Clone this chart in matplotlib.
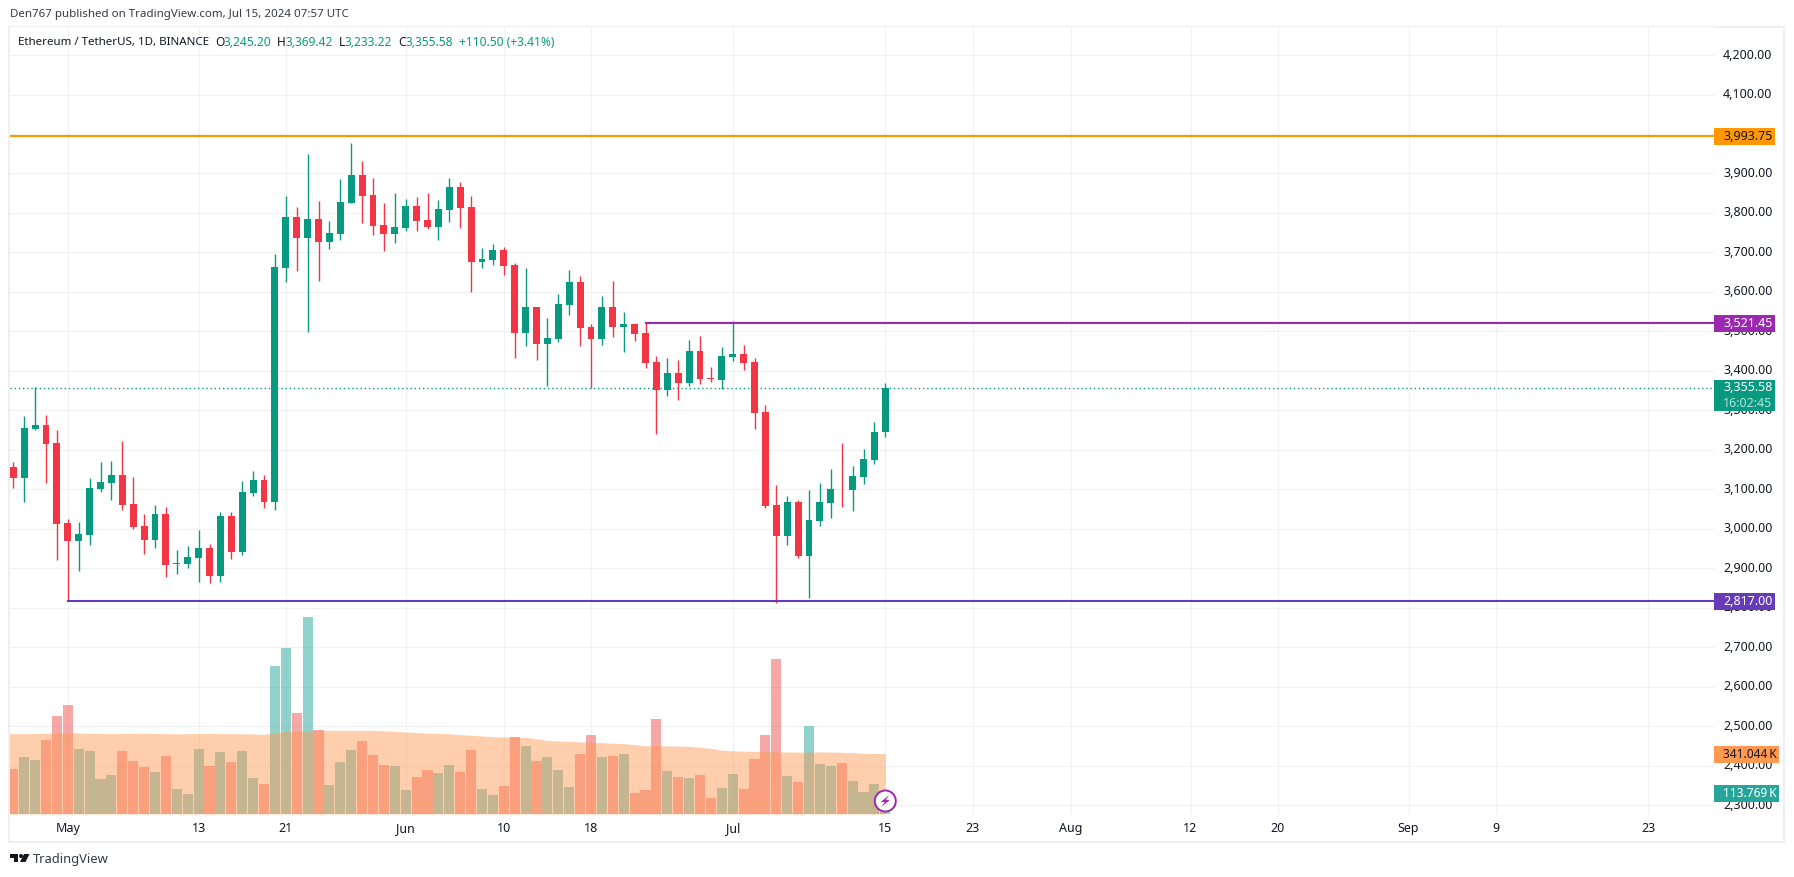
import matplotlib
matplotlib.use("Agg")
import matplotlib.pyplot as plt
import numpy as np
from matplotlib.patches import Rectangle, Polygon, Circle
from matplotlib.transforms import ScaledTranslation

# daily candles, Apr 26 - Jul 15 2024 (index 5 = May 1)
opens = [3157.0, 3129.1, 3253.4, 3263.5, 3217.9, 3015.0, 2969.4, 2984.6, 3101.2, 3116.4,
         3136.7, 3063.2, 3007.4, 2971.9, 3037.8, 2911.0, 2911.0, 2926.2, 2951.6, 2880.6,
         3032.8, 2941.4, 3091.1, 3124.1, 3068.3, 3660.3, 3789.4, 3736.3, 3784.4, 3726.1,
         3746.4, 3824.9, 3895.8, 3845.1, 3769.2, 3746.4, 3761.6, 3817.3, 3781.8, 3764.1,
         3807.1, 3865.4, 3814.7, 3675.5, 3680.6, 3705.9, 3667.9, 3495.8, 3561.6, 3467.9,
         3480.9, 3566.9, 3625.0, 3511.3, 3480.9, 3561.8, 3511.3, 3518.9, 3496.1, 3422.8,
         3352.0, 3395.0, 3369.7, 3450.6, 3382.3, 3377.3, 3435.4, 3443.0, 3422.8, 3296.4,
         3061.3, 2980.4, 3068.8, 2929.8, 3018.3, 3066.3, 3101.7, 3099.2, 3132.1, 3175.0,
         3245.20]
highs = [3169.7, 3286.4, 3359.1, 3288.9, 3250.9, 3025.2, 3017.5, 3129.1, 3169.7, 3172.2,
         3223.0, 3131.7, 3037.8, 3060.6, 3055.6, 2946.5, 2956.7, 2997.3, 2961.7, 3042.9,
         3042.9, 3121.5, 3146.9, 3136.7, 3695.8, 3842.6, 3814.7, 3948.9, 3829.9, 3779.3,
         3885.6, 3976.8, 3931.2, 3888.2, 3824.9, 3850.2, 3835.0, 3840.1, 3850.2, 3832.5,
         3888.2, 3878.0, 3842.6, 3710.9, 3721.1, 3713.5, 3673.0, 3660.3, 3561.6, 3534.0,
         3594.7, 3655.4, 3640.2, 3518.9, 3589.6, 3627.6, 3549.2, 3521.4, 3521.4, 3438.0,
         3432.9, 3427.8, 3478.4, 3488.5, 3410.1, 3460.7, 3526.4, 3465.8, 3432.9, 3314.1,
         3111.8, 3084.0, 3073.9, 3099.2, 3116.9, 3152.3, 3218.0, 3159.9, 3202.9, 3271.1,
         3369.42]
lows = [3103.8, 3068.3, 3250.9, 3116.4, 2921.2, 2817.0, 2893.3, 2959.2, 3093.6, 3073.3,
        3048.0, 2999.8, 2936.4, 2951.6, 2878.1, 2885.7, 2900.9, 2865.4, 2862.8, 2865.4,
        2923.7, 2933.9, 3083.5, 3053.0, 3048.0, 3624.9, 3652.7, 3498.3, 3627.4, 3708.4,
        3731.2, 3824.9, 3774.2, 3743.9, 3703.4, 3723.6, 3754.0, 3754.0, 3759.0, 3731.2,
        3776.8, 3761.6, 3599.5, 3660.3, 3667.9, 3642.6, 3432.5, 3462.8, 3427.4, 3362.1,
        3473.4, 3541.6, 3463.2, 3357.1, 3465.8, 3486.0, 3448.1, 3475.9, 3407.6, 3240.8,
        3336.8, 3326.7, 3362.1, 3367.2, 3372.2, 3354.5, 3425.3, 3402.6, 3253.4, 3051.2,
        2811.0, 2957.6, 2924.8, 2823.6, 3005.6, 3025.9, 3056.2, 3046.1, 3114.4, 3164.9,
        3233.22]
closes = [3129.1, 3255.9, 3263.5, 3215.4, 3012.5, 2969.4, 2987.1, 3103.8, 3119.0, 3136.7,
          3060.6, 3004.9, 2971.9, 3037.8, 2908.5, 2913.5, 2928.8, 2951.6, 2880.6, 3032.8,
          2941.4, 3093.6, 3124.1, 3068.3, 3662.8, 3789.4, 3736.3, 3784.4, 3726.1, 3748.9,
          3827.4, 3895.8, 3842.6, 3766.6, 3746.4, 3764.1, 3817.3, 3779.3, 3764.1, 3809.7,
          3865.4, 3812.2, 3675.5, 3683.1, 3705.9, 3665.4, 3495.8, 3561.6, 3467.9, 3483.5,
          3569.4, 3625.0, 3508.7, 3480.9, 3561.8, 3511.3, 3518.9, 3493.6, 3420.3, 3352.0,
          3395.0, 3369.7, 3450.6, 3379.8, 3379.8, 3438.0, 3443.0, 3420.3, 3293.9, 3058.7,
          2980.4, 3068.8, 2929.8, 3020.8, 3068.8, 3101.7, 3100.0, 3134.6, 3177.6, 3245.8,
          3355.58]

# volume in thousands
volume = [252.5, 320.3, 303.3, 416.4, 552.0, 614.2, 365.5, 354.2, 195.9, 218.5,
          354.2, 297.7, 263.8, 235.5, 325.9, 139.4, 111.2, 365.5, 269.4, 348.5,
          292.0, 354.2, 201.6, 167.7, 834.6, 936.3, 569.0, 1111.6, 472.9, 162.0,
          292.0, 359.8, 410.7, 331.6, 275.1, 269.4, 133.8, 207.2, 246.8, 229.8,
          275.1, 235.5, 359.8, 139.4, 105.5, 156.4, 433.3, 382.5, 297.7, 320.3,
          246.8, 150.7, 337.2, 444.6, 320.3, 325.9, 337.2, 116.8, 133.8, 535.1,
          241.2, 207.2, 201.6, 218.5, 88.5, 145.1, 224.2, 139.4, 309.0, 444.6,
          874.2, 212.9, 179.0, 495.5, 280.7, 269.4, 286.4, 184.6, 122.5, 167.7,
          113.769]
# volume moving average, starts one day before the first candle
volume_ma = [454, 454, 454, 455, 456, 458, 460, 458, 456, 455, 454,
             455, 456, 456, 455, 454, 453, 454, 455, 455, 454,
             454, 453, 452, 450, 459, 467, 469, 470, 473, 473,
             473, 472, 472, 473, 470, 467, 463, 460, 457, 456,
             453, 449, 445, 441, 437, 435, 434, 433, 425, 416,
             413, 411, 408, 405, 403, 400, 398, 392, 386, 386,
             385, 384, 382, 377, 371, 360, 357, 355, 354, 353,
             351, 350, 350, 350, 351, 350, 349, 347, 343, 342,
             341.044]

price_ticks = [2300, 2400, 2500, 2600, 2700, 2800, 2900, 3000, 3100, 3200,
               3300, 3400, 3500, 3600, 3700, 3800, 3900, 4000, 4100, 4200]
date_ticks = [5, 17, 25, 36, 45, 53, 66, 80, 88, 97, 108, 116, 128, 136, 150]
date_labels = ["May", "13", "21", "Jun", "10", "18", "Jul", "15", "23",
               "Aug", "12", "20", "Sep", "9", "23"]

resistance_orange = 3993.75
resistance_purple = 3521.45
support_violet = 2817.00
last_price = 3355.58

GREEN = "#089981"
RED = "#F23645"
VOL_GREEN = "#26A69A"
VOL_RED = "#EF5350"
GRID = "#f0f1f5"
TEXT = "#131722"
W, H = 1794, 877

plt.rcParams["font.family"] = ["Noto Sans", "DejaVu Sans"]


def fx(px):
    return px / W


def fy(py):
    return 1 - py / H


fig = plt.figure(figsize=(W / 100, H / 100), dpi=100, facecolor="white")
rect = [fx(10), fy(814), fx(1714) - fx(10), fy(27) - fy(814)]

# price panel
ax = fig.add_axes(rect, zorder=1)
days = np.arange(len(opens))
o, h, l, c = map(np.array, (opens, highs, lows, closes))
up = c >= o
colors = [GREEN if u else RED for u in up]
vol_colors = [VOL_GREEN if u else VOL_RED for u in up]

ax.vlines(days, l, h, colors=colors, linewidth=1.0, zorder=3)
ax.bar(days, np.maximum(np.abs(c - o), 1.5), bottom=np.minimum(o, c), width=0.64,
       color=colors, linewidth=0, zorder=4)

ax.axhline(resistance_orange, color="#FF9800", linewidth=1.5, zorder=5)
ax.plot([58, 160], [resistance_purple] * 2, color="#9C27B0", linewidth=1.5, zorder=5)
ax.plot([5, 160], [support_violet] * 2, color="#673AB7", linewidth=1.5, zorder=5)
ax.axhline(last_price, color=GREEN, linewidth=1.0, linestyle=(0, (1, 2)), zorder=2)

ax.set_xlim((10 - 13.3) / 10.9, (1714 - 13.3) / 10.9)
ax.set_ylim(2277.2, 4271.1)
ax.set_yticks(price_ticks)
ax.set_yticklabels([f"{p:,.2f}" for p in price_ticks])
ax.set_xticks(date_ticks)
ax.set_xticklabels(date_labels)
ax.yaxis.tick_right()
ax.tick_params(axis="y", length=0, pad=6.5, labelsize=9, labelcolor=TEXT)
ax.tick_params(axis="x", length=0, pad=6, labelsize=9, labelcolor=TEXT)
ax.grid(True, color=GRID, linewidth=0.8, zorder=0)
ax.set_axisbelow(True)
for s in ax.spines.values():
    s.set_visible(False)
# price labels sit a little above their grid line
lift = ScaledTranslation(0, 1.5 / 100, fig.dpi_scale_trans)
for lbl in ax.get_yticklabels():
    lbl.set_transform(lbl.get_transform() + lift)

# volume panel on top, no overlap with candles
ax_vol = fig.add_axes(rect, zorder=2, sharex=ax)
ax_vol.patch.set_alpha(0)
ax_vol.bar(days, volume, width=0.92, color=vol_colors, alpha=0.5, linewidth=0)
ma_days = np.arange(-1, len(opens))
ax_vol.fill_between(ma_days, 0, volume_ma, color="#FF9850", alpha=0.47, linewidth=0)
ax_vol.set_ylim(0, 4448)
ax_vol.axis("off")

# chart frame
fig.add_artist(Rectangle((fx(9), fy(842)), fx(1784) - fx(9), fy(27) - fy(842),
                         transform=fig.transFigure, fill=False,
                         edgecolor="#eeeef3", linewidth=1.5, zorder=0))

# header texts
fig.text(fx(10), fy(15), "Den767 published on TradingView.com, Jul 15, 2024 07:57 UTC",
         fontsize=8.3, color="#363a45", va="center")
fig.text(fx(18), fy(42), "Ethereum / TetherUS, 1D, BINANCE", fontsize=8.3, color=TEXT, va="center")
header = [(215, "O", TEXT), (223, "3,245.20", GREEN), (276.7, "H", TEXT), (285, "3,369.42", GREEN),
          (338.7, "L", TEXT), (344.4, "3,233.22", GREEN), (398, "C", TEXT), (405.7, "3,355.58", GREEN),
          (459, "+110.50 (+3.41%)", GREEN)]
for x, txt, col in header:
    fig.text(fx(x), fy(42), txt, fontsize=8.6, color=col, va="center")


def price_tag(py0, py1, width, color, lines, text_colors, size=9):
    fig.add_artist(Rectangle((fx(1714), fy(py1)), width / W, (py1 - py0) / H,
                             transform=fig.transFigure, facecolor=color,
                             edgecolor="none", zorder=5))
    step = (py1 - py0) / len(lines)
    for n, (line, col) in enumerate(zip(lines, text_colors)):
        fig.text(fx(1723), fy(py0 + step * (n + 0.5)), line, fontsize=size, color=col,
                 va="center", zorder=6)


price_tag(128, 145, 61, "#FF9800", ["3,993.75"], [TEXT])
price_tag(315, 332, 61, "#9C27B0", ["3,521.45"], ["white"])
price_tag(380, 411, 61, GREEN, ["3,355.58", "16:02:45"], ["white", "#b8e3da"])
price_tag(593, 610, 61, "#673AB7", ["2,817.00"], ["white"])
price_tag(746, 763, 65, "#FF9850", ["341.044\u2009K"], [TEXT], size=8.6)
price_tag(785, 802, 65, "#26A69A", ["113.769\u2009K"], ["white"], size=8.6)

# lightning badge on the last bar
aspect = dict(transform=None, zorder=7)
cx, cy = 885.3, H - 801
fig.add_artist(Circle((cx, cy), 10.5, facecolor="white", edgecolor="#9C27B0", linewidth=1.4, **aspect))
bolt = [(cx + 4, cy + 6), (cx - 4.5, cy - 1), (cx - 0.5, cy - 1), (cx - 4, cy - 6),
        (cx + 4.5, cy + 1), (cx + 0.5, cy + 1)]
fig.add_artist(Polygon(bolt, closed=True, facecolor="#9C27B0", edgecolor="none", **aspect))

# TradingView logo
logo = dict(transform=None, facecolor=TEXT, edgecolor="none", zorder=7)
fig.add_artist(Polygon([(10, H - 854), (18, H - 854), (18, H - 862), (14, H - 862),
                        (14, H - 858), (10, H - 858)], closed=True, **logo))
fig.add_artist(Circle((21, H - 856), 2, **logo))
fig.add_artist(Polygon([(24, H - 854), (29.5, H - 854), (25.5, H - 862), (20, H - 862)],
                       closed=True, **logo))
fig.text(fx(33), fy(859), "TradingView", fontsize=9.3, color="#363a45", va="center")

fig.savefig("out.png", dpi=100)
